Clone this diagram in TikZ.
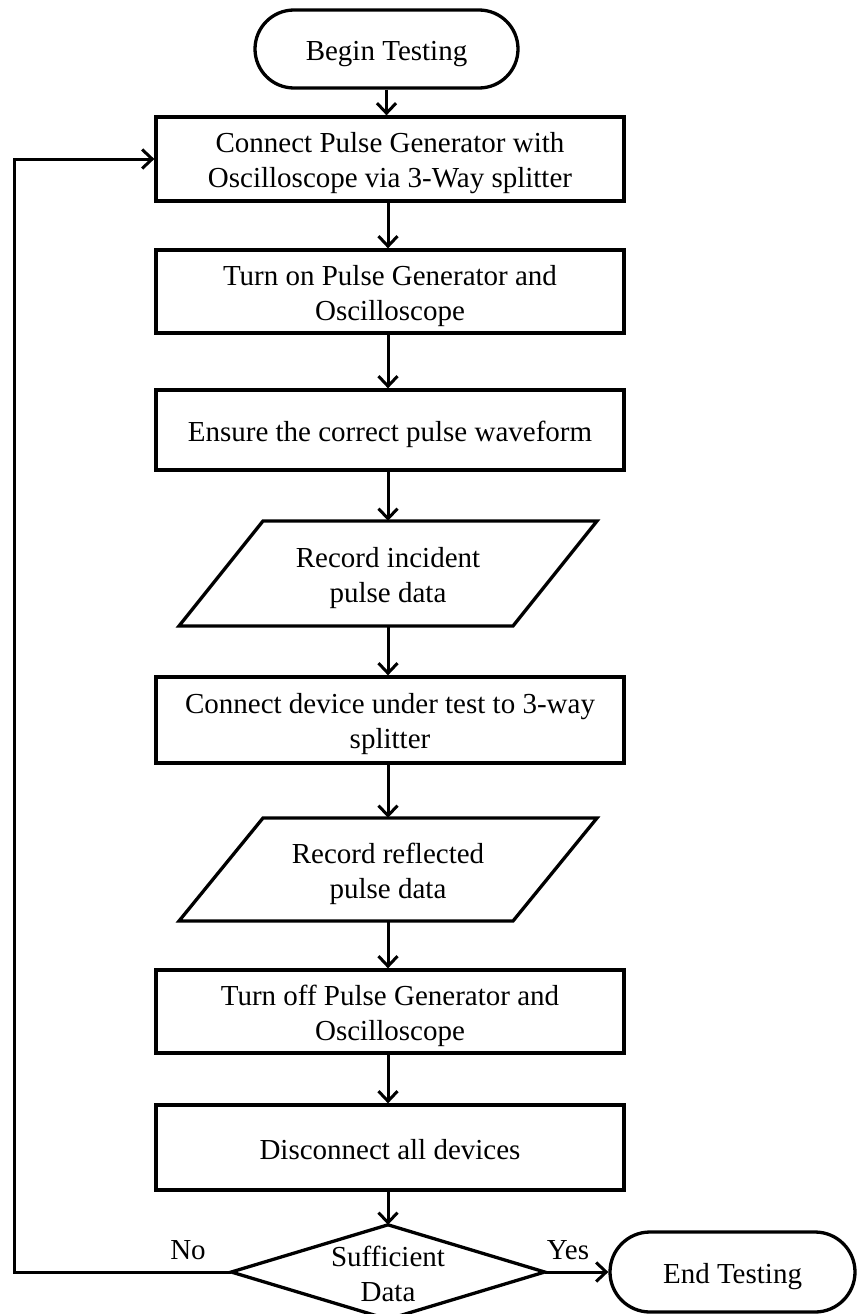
\documentclass[tikz,border=0pt]{standalone}
\usepackage{fontspec}
\setmainfont{Liberation Serif}
\usetikzlibrary{arrows.meta,shapes.misc,calc}
\newcommand{\tstrut}{\rule{0pt}{29pt}}
\newcommand{\bstrut}{\rule[-6pt]{0pt}{6pt}}
\begin{document}
\begin{tikzpicture}[x=1pt,y=-1pt,
  every node/.style={font=\fontsize{29}{35}\selectfont, align=center, inner sep=0pt},
  line/.style={line width=3.3pt, line join=miter},
  conn/.style={line width=3pt, -{Straight Barb[length=10pt,width=19pt,line width=3pt]}},
  stepbox/.style={rectangle, draw, line width=3.3pt, minimum width=468pt, minimum height=83pt},
  terminal/.style={rounded rectangle, draw, line width=3.3pt},
  paraholder/.style={rectangle, minimum width=250pt, minimum height=105pt},
  decholder/.style={rectangle, minimum width=313pt, minimum height=94pt}
]
\useasboundingbox (0,0) rectangle (863,1314);
\node[terminal, minimum width=263pt, minimum height=78pt] (start) at (386.5,49) {\tstrut Begin Testing\bstrut};
\node[stepbox, minimum height=84pt] (b1) at (390,159) {\tstrut Connect Pulse Generator with\\Oscilloscope via 3-Way splitter\bstrut};
\node[stepbox] (b2) at (390,291.5) {\tstrut Turn on Pulse Generator and\\Oscilloscope\bstrut};
\node[stepbox, minimum height=80pt] (b3) at (390,430) {\tstrut Ensure the correct pulse waveform\bstrut};
\node[paraholder] (p1) at (388,573.5) {\tstrut Record incident\\pulse data\bstrut};
\node[stepbox, minimum height=86pt] (b4) at (390,720) {\tstrut Connect device under test to 3-way\\splitter\bstrut};
\node[paraholder, minimum height=103pt] (p2) at (388,869.5) {\tstrut Record reflected\\pulse data\bstrut};
\node[stepbox] (b5) at (390,1011.5) {\tstrut Turn off Pulse Generator and\\Oscilloscope\bstrut};
\node[stepbox, minimum height=85pt] (b6) at (390,1147.5) {\tstrut Disconnect all devices\bstrut};
\node[decholder] (d) at (388,1272) {\tstrut Sufficient\\Data\bstrut};
\node[terminal, minimum width=245pt, minimum height=80pt] (end) at (732.5,1272) {\tstrut End Testing\bstrut};
\node (no) at (188,1248) {\tstrut No\bstrut};
\node (yes) at (568,1248) {\tstrut Yes\bstrut};
\coordinate (lp) at (14,1272);

% shapes drawn directly
\draw[line] ($(p1.center)+(-125,-52.5)$) -- ($(p1.center)+(209,-52.5)$) -- ($(p1.center)+(125,52.5)$) -- ($(p1.center)+(-209,52.5)$) -- cycle;
\draw[line] ($(p2.center)+(-125,-51.5)$) -- ($(p2.center)+(209,-51.5)$) -- ($(p2.center)+(125,51.5)$) -- ($(p2.center)+(-209,51.5)$) -- cycle;
\draw[line] (d.north) -- (d.east) -- (d.south) -- (d.west) -- cycle;

% connectors
\draw[conn] (start.south) -- (start.south |- b1.north);
\draw[conn] (b1.south -| p1) -- (b2.north -| p1);
\draw[conn] (b2.south -| p1) -- (b3.north -| p1);
\draw[conn] (b3.south -| p1) -- (p1.north);
\draw[conn] (p1.south) -- (b4.north -| p1);
\draw[conn] (b4.south -| p1) -- (p2.north);
\draw[conn] (p2.south) -- (b5.north -| p2);
\draw[conn] (b5.south -| p2) -- (b6.north -| p2);
\draw[conn] (b6.south -| d) -- (d.north);
\draw[conn] (d.east) -- (end.west);
\draw[conn] (d.west) -- (lp) |- (b1.west);
\end{tikzpicture}
\end{document}
